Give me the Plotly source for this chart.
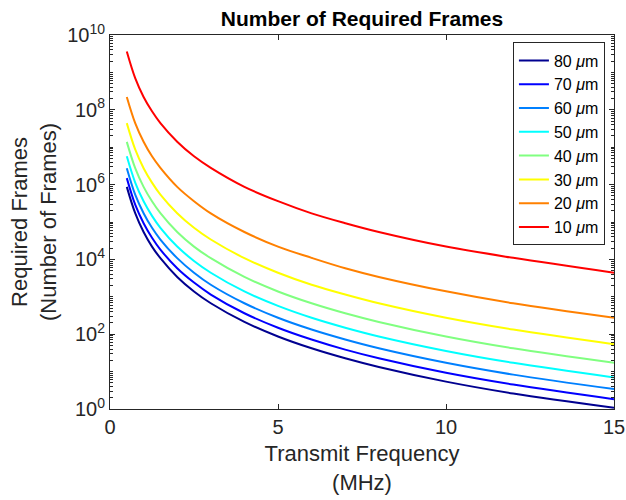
import plotly.graph_objects as go

# Transmit frequency samples (MHz)
freq = [0.5, 0.75, 1, 1.25, 1.5, 2, 2.5, 3, 4, 5, 6, 7, 8, 10, 12, 15]

# Required frames, one list per resolution
frames_80um = [8.7e5, 1.72e5, 5.4e4, 2.2e4, 1.08e4, 3.4e3, 1.39e3, 672, 213, 87, 42, 22.7, 13.3, 5.4, 2.6, 1.08]
frames_70um = [1.49e6, 2.9e5, 9.3e4, 3.8e4, 1.83e4, 5.8e3, 2.4e3, 1.15e3, 363, 149, 72, 38.7, 22.7, 9.3, 4.5, 1.83]
frames_60um = [2.75e6, 5.4e5, 1.72e5, 7.0e4, 3.4e4, 1.08e4, 4.4e3, 2.1e3, 672, 275, 133, 72, 42, 17.2, 8.3, 3.4]
frames_50um = [5.7e6, 1.13e6, 3.57e5, 1.46e5, 7.0e4, 2.2e4, 9.1e3, 4.4e3, 1.39e3, 571, 275, 149, 87, 35.7, 17.2, 7.0]
frames_40um = [1.39e7, 2.75e6, 8.7e5, 3.57e5, 1.72e5, 5.4e4, 2.2e4, 1.08e4, 3.4e3, 1.39e3, 672, 363, 213, 87, 42, 17.2]
frames_30um = [4.4e7, 8.7e6, 2.75e6, 1.13e6, 5.4e5, 1.72e5, 7.0e4, 3.4e4, 1.08e4, 4.4e3, 2.1e3, 1.15e3, 670, 275, 133, 54]
frames_20um = [2.2e8, 4.4e7, 1.4e7, 5.7e6, 2.8e6, 8.7e5, 3.6e5, 1.7e5, 5.4e4, 2.2e4, 1.1e4, 5.8e3, 3.4e3, 1.4e3, 670, 275]
frames_10um = [3.6e9, 7.0e8, 2.2e8, 9.1e7, 4.4e7, 1.4e7, 5.7e6, 2.8e6, 8.7e5, 3.6e5, 1.7e5, 9.3e4, 5.4e4, 2.2e4, 1.1e4, 4.4e3]

series_names = ["80 <i>μ</i>m", "70 <i>μ</i>m", "60 <i>μ</i>m", "50 <i>μ</i>m",
                "40 <i>μ</i>m", "30 <i>μ</i>m", "20 <i>μ</i>m", "10 <i>μ</i>m"]
series_values = [frames_80um, frames_70um, frames_60um, frames_50um,
                 frames_40um, frames_30um, frames_20um, frames_10um]
series_colors = ["#000090", "#0000FF", "#0080FF", "#00FFFF",
                 "#80FF80", "#FFFF00", "#FF8000", "#FF0000"]

x_tickvals = [0, 5, 10, 15]
y_tickvals = [1, 1e2, 1e4, 1e6, 1e8, 1e10]
y_ticktext = ["10<sup>0</sup>", "10<sup>2</sup>", "10<sup>4</sup>",
              "10<sup>6</sup>", "10<sup>8</sup>", "10<sup>10</sup>"]

FONT = "Liberation Sans, Arial, Helvetica, sans-serif"
AX = "#262626"

fig = go.Figure()
for name, vals, col in zip(series_names, series_values, series_colors):
    fig.add_trace(go.Scatter(x=freq, y=vals, name=name, mode="lines",
                             line=dict(color=col, width=2, shape="spline", smoothing=1)))

fig.update_layout(
    width=626, height=500,
    margin=dict(l=110, r=12, t=35, b=91),
    paper_bgcolor="white", plot_bgcolor="white",
    font=dict(family=FONT, color=AX, size=20),
    title=dict(text="<b>Number of Required Frames</b>", x=0.5, xref="paper",
               xanchor="center", yref="container", y=0.962, yanchor="middle",
               font=dict(family=FONT, size=21, color="black")),
    legend=dict(x=0.982, y=0.98, xanchor="right", yanchor="top",
                bgcolor="white", bordercolor=AX, borderwidth=1,
                font=dict(family=FONT, size=16, color="black"),
                tracegroupgap=0, itemwidth=30),
    showlegend=True,
)

fig.update_xaxes(
    range=[0, 15], tickvals=x_tickvals, ticks="inside", ticklen=5, tickcolor=AX,
    showline=True, linecolor=AX, linewidth=1, mirror="ticks", showgrid=False,
    zeroline=False, tickfont=dict(size=20), automargin=False,
    title=dict(text="Transmit Frequency<br>(MHz)", font=dict(size=22), standoff=8),
)
fig.update_yaxes(
    type="log", range=[0, 10], tickvals=y_tickvals, ticktext=y_ticktext,
    ticks="inside", ticklen=5, tickcolor=AX,
    showline=True, linecolor=AX, linewidth=1, mirror="ticks", showgrid=False,
    zeroline=False, tickfont=dict(size=20), automargin=False,
    minor=dict(ticks="inside", ticklen=3, tickcolor=AX, dtick="D1", showgrid=False),
    title=dict(text="Required Frames<br>(Number of Frames)", font=dict(size=22), standoff=4),
)

fig.write_html("out.html", config={"displayModeBar": False},
               post_script="document.body.style.margin='0px';")
